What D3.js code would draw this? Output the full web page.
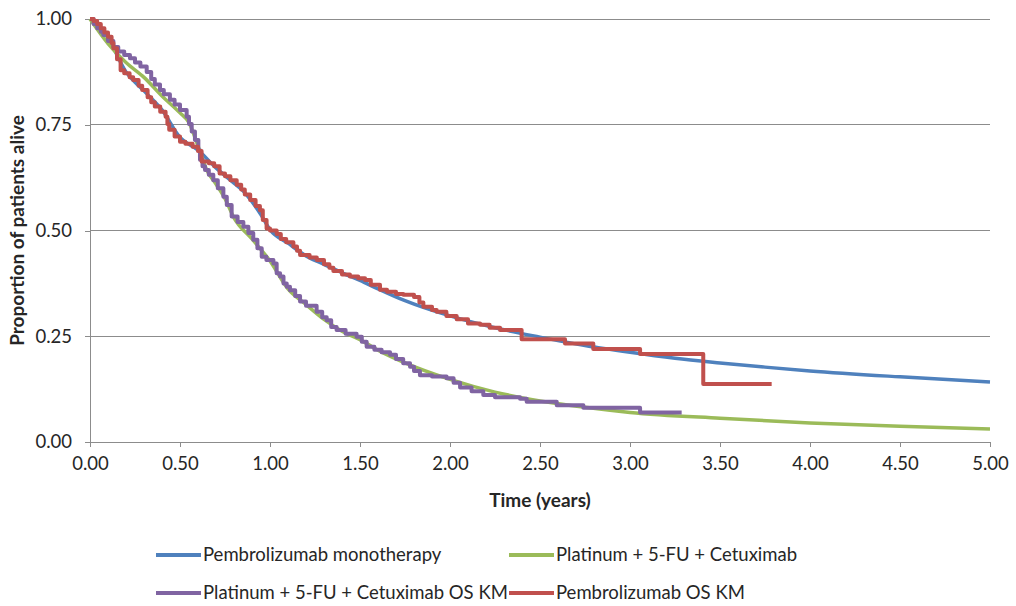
<!DOCTYPE html>
<html>
<head>
<meta charset="utf-8">
<script src="https://cdn.jsdelivr.net/npm/d3@7"></script>
<style>
  html, body { margin: 0; padding: 0; background: #fff; }
  svg { display: block; font-family: Lato, "Open Sans", sans-serif; }
</style>
</head>
<body>
<svg id="chart" width="1016" height="606"></svg>
<script>
// Fitted survival curves (years, proportion alive)
const pembroFitTime = [0, 0.1, 0.2, 0.3, 0.4, 0.5, 0.6, 0.7, 0.8, 0.85, 0.9, 0.95, 1.0, 1.1, 1.2, 1.3, 1.4, 1.5, 1.6, 1.75, 2.0, 2.25, 2.5, 2.75, 3.0, 3.25, 3.5, 3.75, 4.0, 4.5, 5.0];
const pembroFitSurv = [1.0, 0.955, 0.875, 0.83, 0.785, 0.72, 0.69, 0.648, 0.612, 0.594, 0.568, 0.537, 0.502, 0.47, 0.44, 0.42, 0.40, 0.382, 0.362, 0.334, 0.298, 0.27, 0.248, 0.228, 0.212, 0.198, 0.187, 0.177, 0.168, 0.154, 0.142];

const platFitTime = [0, 0.1, 0.2, 0.3, 0.4, 0.5, 0.55, 0.6, 0.65, 0.7, 0.75, 0.8, 0.9, 1.0, 1.1, 1.2, 1.3, 1.4, 1.5, 1.6, 1.75, 2.0, 2.25, 2.5, 2.75, 3.0, 3.5, 4.0, 4.5, 5.0];
const platFitSurv = [1.0, 0.942, 0.897, 0.862, 0.818, 0.778, 0.755, 0.70, 0.642, 0.61, 0.575, 0.53, 0.48, 0.428, 0.362, 0.325, 0.29, 0.262, 0.242, 0.217, 0.187, 0.148, 0.118, 0.097, 0.082, 0.07, 0.056, 0.045, 0.037, 0.031];

// Kaplan-Meier estimates (step times and survival after each step)
const platKMTime = [0, 0.02, 0.04, 0.06, 0.074, 0.10, 0.13, 0.157, 0.19, 0.222, 0.25, 0.28, 0.315, 0.34, 0.36, 0.389, 0.41, 0.444, 0.47, 0.50, 0.537, 0.55, 0.565, 0.583, 0.602, 0.611, 0.625, 0.639, 0.66, 0.685, 0.71, 0.741, 0.76, 0.787, 0.82, 0.852, 0.88, 0.907, 0.93, 0.954, 0.98, 1.019, 1.037, 1.056, 1.075, 1.093, 1.111, 1.14, 1.167, 1.20, 1.259, 1.29, 1.315, 1.34, 1.37, 1.42, 1.481, 1.51, 1.537, 1.58, 1.62, 1.667, 1.70, 1.74, 1.778, 1.80, 1.833, 1.90, 1.981, 2.02, 2.056, 2.12, 2.185, 2.25, 2.389, 2.426, 2.593, 2.741, 3.056, 3.287];
const platKMSurv = [1.0, 0.988, 0.978, 0.970, 0.962, 0.948, 0.934, 0.923, 0.915, 0.907, 0.897, 0.888, 0.875, 0.858, 0.845, 0.832, 0.822, 0.809, 0.798, 0.785, 0.769, 0.752, 0.734, 0.714, 0.690, 0.667, 0.652, 0.643, 0.632, 0.619, 0.600, 0.580, 0.560, 0.533, 0.520, 0.509, 0.494, 0.478, 0.458, 0.438, 0.430, 0.422, 0.399, 0.391, 0.375, 0.367, 0.359, 0.345, 0.332, 0.322, 0.308, 0.295, 0.288, 0.272, 0.265, 0.256, 0.249, 0.237, 0.225, 0.218, 0.212, 0.206, 0.196, 0.186, 0.178, 0.168, 0.158, 0.155, 0.151, 0.140, 0.129, 0.120, 0.111, 0.106, 0.102, 0.095, 0.087, 0.081, 0.070, 0.070];

const pembroKMTime = [0, 0.02, 0.04, 0.06, 0.08, 0.10, 0.12, 0.13, 0.15, 0.17, 0.19, 0.22, 0.24, 0.27, 0.29, 0.32, 0.34, 0.36, 0.39, 0.42, 0.43, 0.44, 0.47, 0.50, 0.53, 0.57, 0.60, 0.62, 0.66, 0.69, 0.72, 0.75, 0.78, 0.815, 0.84, 0.86, 0.89, 0.92, 0.944, 0.96, 0.981, 1.00, 1.037, 1.06, 1.09, 1.13, 1.15, 1.167, 1.22, 1.26, 1.30, 1.33, 1.352, 1.40, 1.444, 1.49, 1.528, 1.56, 1.611, 1.65, 1.70, 1.741, 1.80, 1.83, 1.852, 1.90, 1.926, 1.98, 2.037, 2.10, 2.167, 2.22, 2.278, 2.398, 2.639, 2.796, 3.056, 3.407, 3.787];
const pembroKMSurv = [1.0, 0.995, 0.988, 0.978, 0.968, 0.958, 0.943, 0.931, 0.905, 0.879, 0.872, 0.862, 0.856, 0.842, 0.832, 0.815, 0.803, 0.793, 0.781, 0.769, 0.752, 0.738, 0.722, 0.710, 0.705, 0.698, 0.688, 0.663, 0.659, 0.652, 0.635, 0.628, 0.619, 0.608, 0.597, 0.585, 0.572, 0.558, 0.548, 0.525, 0.505, 0.500, 0.492, 0.480, 0.472, 0.462, 0.452, 0.442, 0.436, 0.430, 0.420, 0.412, 0.404, 0.396, 0.391, 0.387, 0.383, 0.372, 0.360, 0.355, 0.350, 0.348, 0.343, 0.330, 0.320, 0.312, 0.308, 0.298, 0.290, 0.280, 0.277, 0.270, 0.265, 0.243, 0.233, 0.220, 0.208, 0.137, 0.137];

const xTicks = [0, 0.5, 1, 1.5, 2, 2.5, 3, 3.5, 4, 4.5, 5];
const yTicks = [0, 0.25, 0.5, 0.75, 1];

const seriesNames = ["Pembrolizumab monotherapy", "Platinum + 5-FU + Cetuximab", "Platinum + 5-FU + Cetuximab OS KM", "Pembrolizumab OS KM"];
const seriesColors = ["#4F81BD", "#9BBB59", "#8064A2", "#C0504D"];

const svg = d3.select("#chart");
const margin = { left: 90, right: 26, top: 19, bottom: 164 };
const W = 1016, H = 606;
const fontSize = "19px";

const x = d3.scaleLinear().domain([0, 5]).range([margin.left, W - margin.right]);
const y = d3.scaleLinear().domain([0, 1]).range([H - margin.bottom, margin.top]);

// horizontal gridlines
svg.append("g")
  .selectAll("line")
  .data(yTicks.filter(d => d > 0))
  .join("line")
  .attr("x1", x(0)).attr("x2", x(5))
  .attr("y1", d => y(d)).attr("y2", d => y(d))
  .attr("stroke", "#8c8c8c").attr("stroke-width", 1)
  .attr("shape-rendering", "crispEdges");

// axes
const xAxis = svg.append("g")
  .attr("transform", `translate(0,${y(0)})`)
  .call(d3.axisBottom(x).tickValues(xTicks).tickFormat(d3.format(".2f")).tickSize(5).tickPadding(10));
const yAxis = svg.append("g")
  .attr("transform", `translate(${x(0)},0)`)
  .call(d3.axisLeft(y).tickValues(yTicks).tickFormat(d3.format(".2f")).tickSize(5).tickPadding(13));

[xAxis, yAxis].forEach(g => {
  g.select(".domain").attr("stroke", "#8c8c8c").attr("shape-rendering", "crispEdges");
  g.selectAll(".tick line").attr("stroke", "#8c8c8c").attr("shape-rendering", "crispEdges");
  g.selectAll(".tick text").attr("fill", "#262626").style("font-size", "18.5px").style("font-family", "Lato, sans-serif");
});

// axis titles
svg.append("text")
  .attr("x", (x(0) + x(5)) / 2).attr("y", 507)
  .attr("text-anchor", "middle")
  .style("font-size", fontSize).style("font-weight", "bold").attr("fill", "#262626")
  .text("Time (years)");
svg.append("text")
  .attr("transform", `translate(24,${(y(0) + y(1)) / 2}) rotate(-90)`)
  .attr("text-anchor", "middle")
  .style("font-size", fontSize).style("font-weight", "bold").attr("fill", "#262626")
  .text("Proportion of patients alive");

const smoothLine = d3.line().x(d => x(d[0])).y(d => y(d[1])).curve(d3.curveMonotoneX);
const stepLine = d3.line().x(d => x(d[0])).y(d => y(d[1])).curve(d3.curveStepAfter);

const series = [
  { pts: d3.zip(pembroFitTime, pembroFitSurv), gen: smoothLine, w: 3.5 },
  { pts: d3.zip(platFitTime, platFitSurv), gen: smoothLine, w: 3.5 },
  { pts: d3.zip(platKMTime, platKMSurv), gen: stepLine, w: 4 },
  { pts: d3.zip(pembroKMTime, pembroKMSurv), gen: stepLine, w: 4 }
];

svg.append("g")
  .selectAll("path")
  .data(series)
  .join("path")
  .attr("d", d => d.gen(d.pts))
  .attr("fill", "none")
  .attr("stroke", (d, i) => seriesColors[i])
  .attr("stroke-width", d => d.w)
  .attr("stroke-linejoin", "round");

// legend
const legendPos = [[156, 555], [509, 555], [156, 593], [509, 593]];
const lg = svg.append("g").selectAll("g")
  .data(seriesNames)
  .join("g")
  .attr("transform", (d, i) => `translate(${legendPos[i][0]},${legendPos[i][1]})`);
lg.append("line")
  .attr("x1", 0).attr("x2", 45).attr("y1", 0).attr("y2", 0)
  .attr("stroke", (d, i) => seriesColors[i]).attr("stroke-width", 4);
lg.append("text")
  .attr("x", 47).attr("y", 0).attr("dy", "0.35em")
  .style("font-size", "18.5px").attr("fill", "#262626")
  .text(d => d);
</script>
</body>
</html>
